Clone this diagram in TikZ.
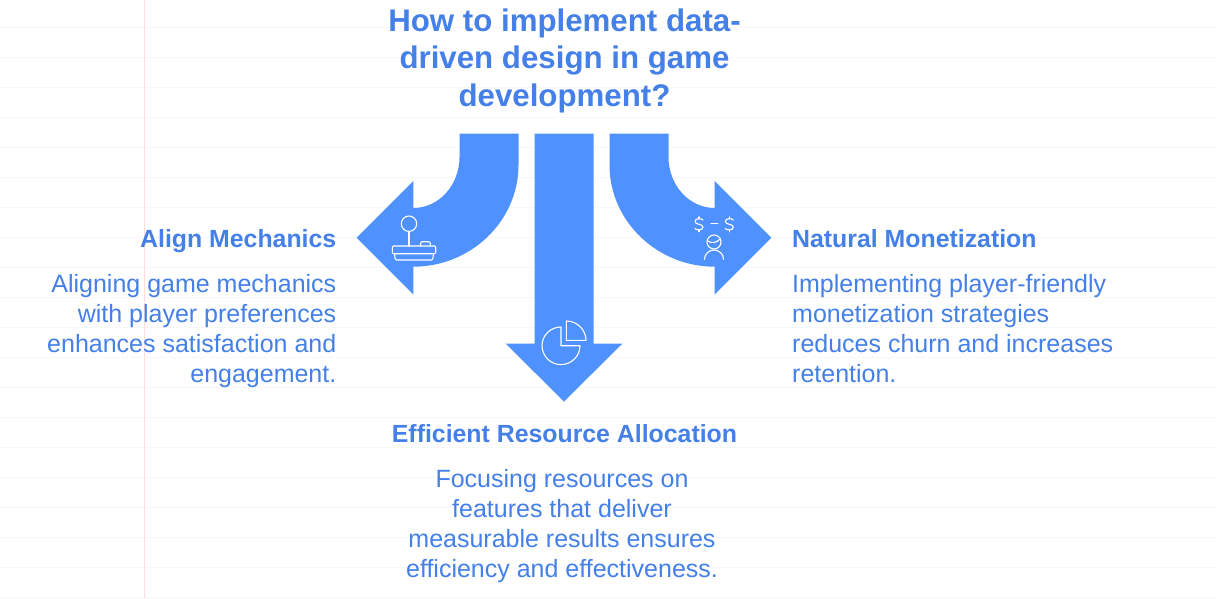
\documentclass[tikz,border=0pt]{standalone}
\usepackage{fontspec}
\setmainfont{Liberation Sans}
\definecolor{arrowblue}{HTML}{4F92FF}
\definecolor{textblue}{HTML}{4480E8}
\definecolor{ruleline}{HTML}{F7F7F7}
\definecolor{marginline}{HTML}{FFDCDC}
\tikzset{
  arrowshape/.style={fill=arrowblue,draw=none},
  iconline/.style={draw=white,line width=1.1pt,line cap=round,line join=round,fill=none},
  titletext/.style={text=textblue,align=center,inner sep=0pt,font=\fontsize{31.25}{37.5}\selectfont\bfseries},
  headtext/.style={text=textblue,inner sep=0pt,font=\fontsize{24.85}{30}\selectfont\bfseries},
  bodytext/.style={text=textblue,inner sep=0pt,font=\fontsize{25}{30}\selectfont},
}
\newcommand{\dollarmark}[2]{%
  \draw[iconline,shift={(#1,#2)}] (4,-4.2) .. controls (3.5,-6) and (-4,-6.5) .. (-4,-3) .. controls (-4,1) and (4,-1) .. (4,3) .. controls (4,6.5) and (-3.5,6) .. (-4,4.2);
  \draw[iconline,shift={(#1,#2)}] (0,-7.5) -- (0,-5.6) (0,5.6) -- (0,7.5);
}
\begin{document}
\begin{tikzpicture}[x=1pt,y=-1pt]
\useasboundingbox (0,0) rectangle (1216,598);
\fill[white] (0,0) rectangle (1216,598);
\foreach \yy in {27.5,57.5,...,597.5} \draw[ruleline,line width=1pt] (0,\yy) -- (1216,\yy);
\draw[marginline,line width=1pt] (144.5,0) -- (144.5,598);

% arrows
\path[arrowshape] (459.5,133.5) -- (518.5,133.5) -- (518.5,165) .. controls (518.5,221) and (471,266.7) .. (413.3,266.7) -- (413.3,294.5) -- (356.7,237.7) -- (413.3,181) -- (413.3,208) .. controls (439,208) and (459.5,185) .. (459.5,157) -- cycle;
\path[arrowshape] (668.5,133.5) -- (609.5,133.5) -- (609.5,165) .. controls (609.5,221) and (657,266.7) .. (714.7,266.7) -- (714.7,294.5) -- (771.3,237.7) -- (714.7,181) -- (714.7,208) .. controls (689,208) and (668.5,185) .. (668.5,157) -- cycle;
\path[arrowshape] (534.5,133.5) -- (593.5,133.5) -- (593.5,343.5) -- (622.5,343.5) -- (564,401.5) -- (505.5,343.5) -- (534.5,343.5) -- cycle;

% joystick icon
\draw[iconline] (409,223.7) circle[radius=7.7];
\draw[iconline] (409,231.4) -- (409,246);
\draw[iconline,rounded corners=1.2pt] (392.3,246) rectangle (435.7,253.7);
\draw[iconline,rounded corners=1.2pt] (394.5,253.7) -- (395.3,260) -- (432.7,260) -- (433.5,253.7);
\draw[iconline,rounded corners=1.5pt] (420.5,246) -- (420.5,241.7) -- (430.3,241.7) -- (430.3,246);

% monetization icon
\dollarmark{699}{224.3}
\dollarmark{729.3}{224.3}
\draw[iconline] (711,223.7) -- (717.8,223.7);
\draw[iconline] (714,242) circle[radius=7];
\draw[iconline] (707.3,240.5) .. controls (711,244) and (717,243) .. (720.5,238.5);
\draw[iconline] (704.5,259.3) .. controls (704.5,254) and (709,250) .. (714,250) .. controls (719,250) and (723.5,254) .. (723.5,259.3);

% pie icon
\draw[iconline] (561,327) .. controls (550.5,327) and (542,335.3) .. (542,345.7) .. controls (542,356) and (550.5,364.6) .. (561,364.6) .. controls (571.5,364.6) and (580,356) .. (580,345.7) -- (561,345.7) -- cycle;
\draw[iconline] (566.3,321) .. controls (577,321) and (586,329.8) .. (586,340.3) -- (566.3,340.3) -- cycle;

% text
\node[titletext,anchor=north] (title) at (564.5,8.5) {How to implement data-\\driven design in game\\development?};
\node[headtext,anchor=base east] (lefthead) at (336.5,247) {Align Mechanics};
\node[bodytext,anchor=north east,align=right] (leftbody) at (336.5,274.5) {Aligning game mechanics\\with player preferences\\enhances satisfaction and\\engagement.};
\node[headtext,anchor=base west] (righthead) at (792,247) {Natural Monetization};
\node[bodytext,anchor=north west,align=left] (rightbody) at (792,274.5) {Implementing player-friendly\\monetization strategies\\reduces churn and increases\\retention.};
\node[headtext,anchor=base] (midhead) at (564.5,442) {Efficient Resource Allocation};
\node[bodytext,anchor=north,align=center] (midbody) at (562,469.5) {Focusing resources on\\features that deliver\\measurable results ensures\\efficiency and effectiveness.};
\end{tikzpicture}
\end{document}
